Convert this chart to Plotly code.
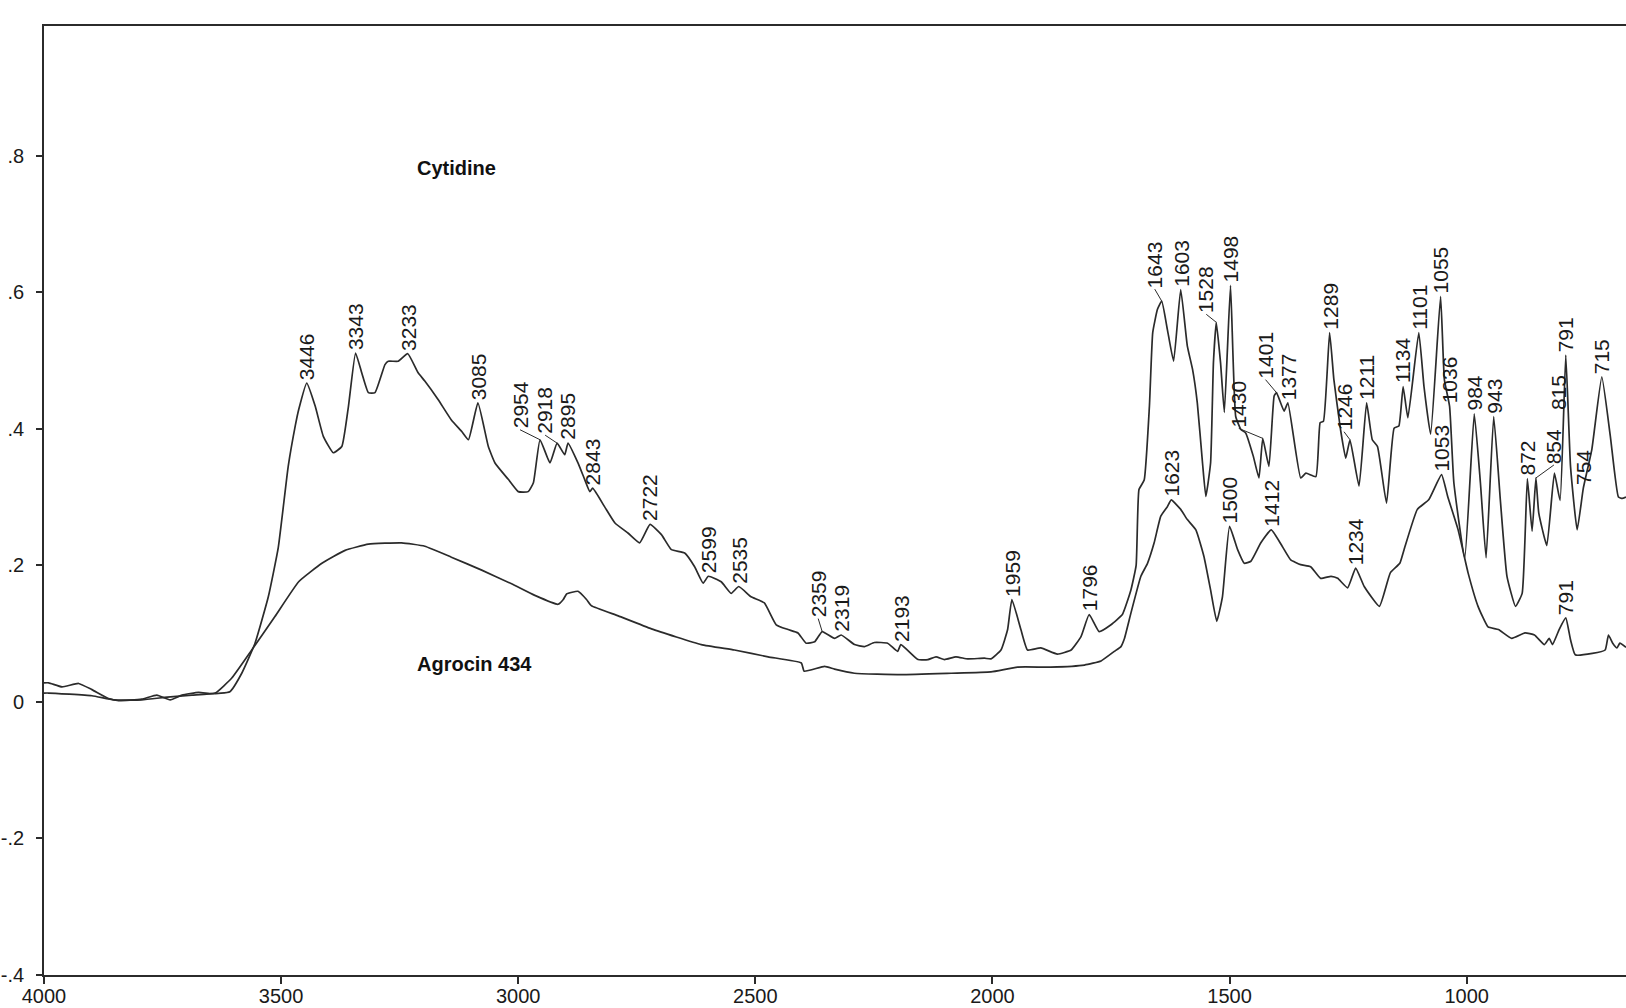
import plotly.graph_objects as go

# Cytidine IR absorbance spectrum (wavenumber in cm-1, absorbance)
cytidine_wn = [4000, 3990, 3962, 3927, 3899, 3864, 3843, 3794, 3762, 3734, 3709, 3674, 3646, 3608, 3583,
               3555, 3527, 3506, 3485, 3470, 3463, 3446, 3428, 3411, 3390, 3372, 3358, 3343, 3330, 3316,
               3302, 3281, 3274, 3253, 3233, 3211, 3197, 3169, 3141, 3119, 3105, 3085, 3063, 3049, 3021,
               3000, 2979, 2968, 2954, 2933, 2918, 2902, 2895, 2874, 2860, 2849, 2843, 2818, 2796, 2768,
               2744, 2722, 2698, 2677, 2649, 2628, 2610, 2599, 2572, 2551, 2535, 2509, 2481, 2456, 2431,
               2410, 2393, 2375, 2359, 2333, 2319, 2291, 2270, 2249, 2221, 2200, 2193, 2157, 2136, 2119,
               2101, 2077, 2052, 2017, 2003, 1982, 1968, 1959, 1940, 1926, 1898, 1863, 1834, 1813, 1796,
               1775, 1750, 1726, 1708, 1697, 1691, 1680, 1669, 1662, 1652, 1643, 1631, 1618, 1603, 1589,
               1578, 1568, 1557, 1550, 1540, 1534, 1528, 1519, 1511, 1498, 1487, 1476, 1466, 1450, 1438,
               1430, 1417, 1406, 1401, 1385, 1377, 1350, 1339, 1318, 1309, 1302, 1289, 1280, 1266, 1255,
               1246, 1227, 1211, 1199, 1188, 1169, 1153, 1143, 1134, 1124, 1101, 1090, 1076, 1055, 1047,
               1036, 1027, 1004, 984, 971, 959, 943, 929, 915, 897, 883, 872, 862, 854, 848,
               831, 815, 803, 791, 781, 767, 754, 736, 715, 697, 680, 672, 664]
cytidine_abs = [0.028, 0.028, 0.022, 0.027, 0.018, 0.005, 0.002, 0.004, 0.010, 0.003, 0.010, 0.014, 0.012, 0.015, 0.042,
                0.086, 0.154, 0.226, 0.345, 0.405, 0.428, 0.467, 0.433, 0.389, 0.365, 0.374, 0.433, 0.511, 0.482, 0.453,
                0.453, 0.494, 0.499, 0.499, 0.510, 0.482, 0.470, 0.443, 0.413, 0.396, 0.384, 0.438, 0.374, 0.350, 0.326,
                0.308, 0.308, 0.321, 0.384, 0.350, 0.379, 0.362, 0.379, 0.350, 0.326, 0.308, 0.313, 0.286, 0.262, 0.247,
                0.233, 0.260, 0.245, 0.223, 0.218, 0.198, 0.174, 0.184, 0.176, 0.159, 0.169, 0.154, 0.145, 0.113, 0.106,
                0.101, 0.086, 0.088, 0.103, 0.093, 0.098, 0.084, 0.081, 0.087, 0.086, 0.074, 0.084, 0.062, 0.062, 0.066,
                0.062, 0.066, 0.063, 0.064, 0.063, 0.076, 0.106, 0.150, 0.106, 0.076, 0.079, 0.070, 0.076, 0.096, 0.128,
                0.103, 0.113, 0.128, 0.164, 0.200, 0.311, 0.325, 0.433, 0.541, 0.575, 0.587, 0.545, 0.499, 0.604, 0.521,
                0.487, 0.438, 0.350, 0.301, 0.350, 0.497, 0.556, 0.497, 0.424, 0.610, 0.418, 0.399, 0.394, 0.360, 0.328,
                0.386, 0.345, 0.448, 0.453, 0.426, 0.438, 0.328, 0.335, 0.330, 0.409, 0.411, 0.541, 0.472, 0.399, 0.357,
                0.384, 0.316, 0.438, 0.384, 0.374, 0.291, 0.401, 0.404, 0.462, 0.416, 0.541, 0.462, 0.392, 0.594, 0.472,
                0.433, 0.321, 0.211, 0.422, 0.321, 0.211, 0.418, 0.296, 0.184, 0.140, 0.159, 0.327, 0.250, 0.328, 0.277,
                0.229, 0.335, 0.295, 0.508, 0.345, 0.252, 0.313, 0.370, 0.476, 0.389, 0.300, 0.298, 0.300]

# Agrocin 434 IR absorbance spectrum
agrocin_wn = [4000, 3990, 3899, 3853, 3794, 3740, 3688, 3639, 3604, 3562, 3513, 3463, 3414, 3365, 3316,
              3246, 3197, 3141, 3077, 3014, 2965, 2916, 2905, 2898, 2874, 2856, 2846, 2789, 2719, 2614,
              2544, 2473, 2403, 2397, 2354, 2333, 2291, 2193, 2087, 2003, 1947, 1877, 1806, 1771, 1743,
              1729, 1722, 1708, 1687, 1673, 1659, 1645, 1631, 1623, 1603, 1589, 1571, 1554, 1540, 1527,
              1515, 1500, 1483, 1469, 1455, 1434, 1412, 1389, 1371, 1350, 1329, 1308, 1286, 1272, 1251,
              1234, 1216, 1184, 1161, 1141, 1132, 1104, 1080, 1053, 1040, 1018, 997, 976, 955, 933,
              905, 877, 857, 836, 826, 819, 805, 791, 781, 771, 735, 708, 701, 692, 683,
              677, 664]
agrocin_abs = [0.013, 0.013, 0.009, 0.003, 0.003, 0.007, 0.010, 0.013, 0.035, 0.076, 0.125, 0.176, 0.203, 0.222, 0.231,
               0.233, 0.228, 0.212, 0.193, 0.173, 0.156, 0.143, 0.150, 0.158, 0.162, 0.150, 0.141, 0.126, 0.107, 0.084,
               0.076, 0.066, 0.057, 0.045, 0.052, 0.048, 0.042, 0.040, 0.042, 0.044, 0.051, 0.051, 0.054, 0.060, 0.074,
               0.081, 0.092, 0.130, 0.184, 0.203, 0.233, 0.272, 0.286, 0.296, 0.282, 0.267, 0.252, 0.213, 0.164, 0.118,
               0.154, 0.257, 0.223, 0.203, 0.206, 0.233, 0.252, 0.228, 0.208, 0.201, 0.198, 0.181, 0.184, 0.181, 0.167,
               0.196, 0.169, 0.140, 0.189, 0.203, 0.223, 0.282, 0.296, 0.333, 0.301, 0.252, 0.189, 0.140, 0.110, 0.106,
               0.093, 0.101, 0.098, 0.084, 0.093, 0.084, 0.106, 0.123, 0.091, 0.069, 0.071, 0.076, 0.098, 0.086, 0.079,
               0.086, 0.080]

# Peak positions printed above each spectrum
cytidine_peaks = [3446, 3343, 3233, 3085, 2954, 2918, 2895, 2843, 2722, 2599, 2535, 2359, 2319, 2193,
                  1959, 1796, 1643, 1603, 1528, 1498, 1430, 1401, 1377, 1289, 1246, 1211, 1134, 1101,
                  1055, 1036, 984, 943, 872, 854, 815, 791, 754, 715]
agrocin_peaks = [1623, 1500, 1412, 1234, 1053, 791]

x_tick_values = [4000, 3500, 3000, 2500, 2000, 1500, 1000]
y_tick_values = [-0.4, -0.2, 0, 0.2, 0.4, 0.6, 0.8]
y_tick_labels = ["-.4", "-.2", "0", ".2", ".4", ".6", ".8"]

# Peak labels set off to the side with a short leader line: (dx, dy) in pixels, dy up
leader_offsets = {2954: (-20, 10), 2918: (-12, 8), 2359: (-4, 13), 1643: (-7, 12),
                  1528: (-10, 8), 1430: (-24, 10), 1401: (-11, 13), 1246: (-6, 8),
                  854: (18, 13)}
# Labels lifted clear of a neighbouring label: (xshift, yshift)
lifted_labels = {815: (4, 62)}

INK = "#2b2b2b"
FONT = "Liberation Sans, Arial, Helvetica, sans-serif"

fig = go.Figure()
for wn, ab in ((cytidine_wn, cytidine_abs), (agrocin_wn, agrocin_abs)):
    fig.add_trace(go.Scatter(x=wn, y=ab, mode="lines",
                             line=dict(color=INK, width=1.7, shape="spline", smoothing=0.4),
                             showlegend=False, hoverinfo="skip"))

annotations = []
shapes = []


def add_peak_label(peak, wn, ab):
    y = ab[wn.index(peak)]
    xs, ys = 0, 2
    if peak in leader_offsets:
        xs, ys = leader_offsets[peak]
        shapes.append(dict(type="line", xref="x", yref="y", xsizemode="pixel", ysizemode="pixel",
                           xanchor=peak, yanchor=y, x0=0, y0=0, x1=xs, y1=ys,
                           line=dict(color=INK, width=1)))
    elif peak in lifted_labels:
        xs, ys = lifted_labels[peak]
    annotations.append(dict(x=peak, y=y, text=str(peak), textangle=-90, showarrow=False,
                            xanchor="center", yanchor="bottom", xshift=xs, yshift=ys,
                            borderpad=0, font=dict(family=FONT, size=21, color="#1a1a1a")))


for p in cytidine_peaks:
    add_peak_label(p, cytidine_wn, cytidine_abs)
for p in agrocin_peaks:
    add_peak_label(p, agrocin_wn, agrocin_abs)

annotations.append(dict(x=3218, y=0.782, text="<b>Cytidine</b>", showarrow=False,
                        xanchor="left", yanchor="middle",
                        font=dict(family=FONT, size=20, color="#111")))
annotations.append(dict(x=3218, y=0.056, text="<b>Agrocin 434</b>", showarrow=False,
                        xanchor="left", yanchor="middle",
                        font=dict(family=FONT, size=20, color="#111")))

fig.update_layout(
    width=1626, height=1008, autosize=False,
    margin=dict(l=44, r=0, t=26, b=33, pad=0),
    paper_bgcolor="white", plot_bgcolor="white",
    annotations=annotations, shapes=shapes,
    font=dict(family=FONT, size=20, color="#1a1a1a"),
    xaxis=dict(range=[4000, 664], tickvals=x_tick_values,
               ticktext=[str(v) for v in x_tick_values],
               showgrid=False, zeroline=False, showline=True, linecolor=INK, linewidth=1.6,
               mirror=True, ticks="outside", ticklen=7, tickwidth=1.5, tickcolor=INK,
               tickfont=dict(family=FONT, size=20), ticklabelstandoff=-5, automargin=False),
    yaxis=dict(range=[-0.4, 0.99], tickvals=y_tick_values, ticktext=y_tick_labels,
               showgrid=False, zeroline=False, showline=True, linecolor=INK, linewidth=1.6,
               ticks="outside", ticklen=6, tickwidth=1.5, tickcolor=INK,
               tickfont=dict(family=FONT, size=20), ticklabelstandoff=8, automargin=False),
)

fig.write_html("out.html")
